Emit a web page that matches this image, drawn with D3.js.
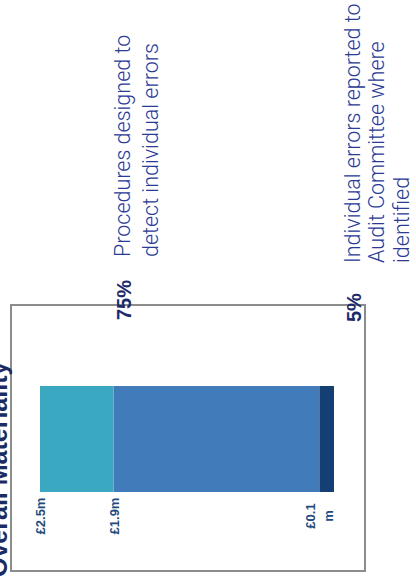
<!DOCTYPE html>
<html><head><meta charset="utf-8">
<script src="https://cdn.jsdelivr.net/npm/d3@7"></script>
<style>html,body{margin:0;padding:0;background:#fff;overflow:hidden}</style>
</head><body><svg id="c" width="416" height="578"></svg>
<script>
const title = "Overall Materiality";
const segmentNames = ["Reporting threshold", "Performance materiality", "Headroom"];
const segmentFrom = [0, 5, 75];
const segmentTo = [5, 75, 100];
const segmentColors = ["#133f73", "#417bb9", "#3aa8c1"];
const boundaryPct = [100, 75, 5];
const boundaryLabels = [["£2.5m"], ["£1.9m"], ["£0.1", "m"]];
const pctLabels = ["75%", "5%"];
const descriptions = [
  ["Procedures designed to", "detect individual errors"],
  ["Individual errors reported to", "Audit Committee where", "identified"]
];

const W = 416, H = 578;
const svg = d3.select("#c");
// chart is drawn in its natural frame (578 wide x 416 tall), then turned a quarter to the left
const g = svg.append("g").attr("transform", `translate(0,${H}) rotate(-90)`);

// frame
g.append("rect").attr("x", 7).attr("y", 11).attr("width", 266).attr("height", 354)
  .attr("fill", "none").attr("stroke", "#8c8c8c").attr("stroke-width", 2);

// title
g.append("text").attr("x", 1).attr("y", 7).text(title)
  .attr("font-family", "Liberation Sans, Arial, sans-serif").attr("font-weight", "bold")
  .attr("font-size", 25).attr("fill", "#1b2b63");

const y = d3.scaleLinear().domain([0, 100]).range([334, 40]);
const x = d3.scaleBand().domain(["Overall"]).range([86, 192]).padding(0);

g.selectAll("rect.seg").data(segmentNames).join("rect").attr("class", "seg")
  .attr("x", x("Overall")).attr("width", x.bandwidth())
  .attr("y", (d, i) => y(segmentTo[i]))
  .attr("height", (d, i) => y(segmentFrom[i]) - y(segmentTo[i]))
  .attr("fill", (d, i) => segmentColors[i]);

// boundary value labels
const lh = 18;
boundaryPct.forEach((p, i) => {
  const lines = boundaryLabels[i];
  const t = g.append("text").attr("text-anchor", "middle")
    .attr("font-family", "Liberation Sans, Arial, sans-serif").attr("font-weight", "bold")
    .attr("font-size", 13).attr("fill", "#1f4a7d").attr("dominant-baseline", "central");
  lines.forEach((ln, k) => {
    t.append("tspan").attr("x", 62).attr("y", y(p) + (k - (lines.length - 1) / 2) * lh).text(ln);
  });
});

// annotations
const pctX = [258, 256];
const descX = [321, 315];
const baselines = [[130, 158], [360, 384, 409]];
pctLabels.forEach((lab, i) => {
  g.append("text").attr("x", pctX[i]).attr("y", baselines[i][0] + 1).text(lab)
    .attr("font-family", "Liberation Sans, Arial, sans-serif").attr("font-weight", "bold")
    .attr("font-size", 20).attr("fill", "#1d2a6a");
  const t = g.append("text").attr("font-family", "Roboto, sans-serif").attr("font-weight", 300)
    .attr("font-size", 21.5).attr("fill", "#2b3a94");
  descriptions[i].forEach((ln, k) => {
    t.append("tspan").attr("x", descX[i]).attr("y", baselines[i][k]).text(ln);
  });
});
</script></body></html>
